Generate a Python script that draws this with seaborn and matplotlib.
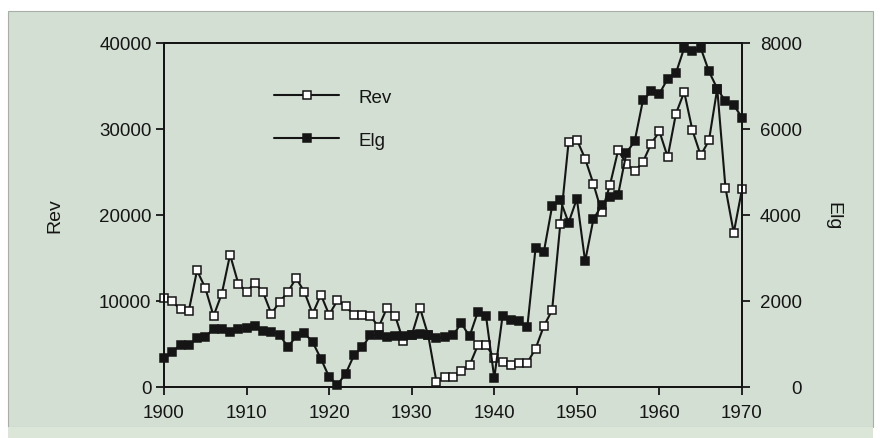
import numpy as np
import pandas as pd
import matplotlib
matplotlib.use("Agg")
import matplotlib.pyplot as plt
from matplotlib.lines import Line2D
from matplotlib.patches import Rectangle
import seaborn as sns

sns.set_style("ticks")
plt.rcParams['font.family'] = ['Liberation Sans', 'DejaVu Sans']

years = list(range(1900, 1971))

rev = [10350, 9950, 9020, 8840, 13560, 11510, 8260, 10850, 15380, 12010,
       11050, 12130, 11000, 8520, 9880, 11050, 12670, 11050, 8520, 10730,
       8400, 10070, 9420, 8330, 8330, 8260, 6980, 9190, 8260, 5300,
       6000, 9190, 6000, 580, 1200, 1200, 1810, 2510, 4840, 4900,
       3370, 2910, 2590, 2820, 2820, 4450, 7090, 8910, 18990, 28490,
       28760, 26550, 23640, 20350, 23450, 27520, 25970, 25080, 26160, 28290,
       29720, 26740, 31780, 34300, 29840, 26930, 28680, 34690, 23140, 17940,
       22980]

elg = [674, 814, 984, 967, 1147, 1163, 1356, 1340, 1279, 1340,
       1372, 1419, 1294, 1279, 1216, 930, 1177, 1250, 1047, 658,
       233, 53, 309, 735, 930, 1200, 1200, 1163, 1178, 1178,
       1216, 1230, 1216, 1132, 1163, 1200, 1488, 1177, 1744, 1651,
       209, 1651, 1565, 1527, 1395, 3232, 3139, 4200, 4340, 3821,
       4379, 2921, 3898, 4223, 4418, 4472, 5449, 5712, 6665, 6875,
       6821, 7170, 7302, 7884, 7805, 7884, 7340, 6940, 6640, 6560,
       6260]

df = pd.DataFrame({"year": years, "Rev": rev, "Elg": elg})

bg = "#d3dfd2"
ink = "#151515"
msize = 6

fig = plt.figure(figsize=(8.83, 4.39), dpi=100, facecolor="white")
# scanned panel background
fig.patches.append(Rectangle((8 / 883, 11 / 439), 865 / 883, 416 / 439,
                             transform=fig.transFigure, facecolor=bg,
                             edgecolor="#a8aea8", linewidth=0.8, zorder=-5))
fig.patches.append(Rectangle((8 / 883, 0), 865 / 883, 11 / 439,
                             transform=fig.transFigure, facecolor="#dce6d8",
                             edgecolor="none", zorder=-5))

ax = fig.add_axes([164 / 883, 1 - 388 / 439, 578 / 883, 344 / 439])
ax.set_facecolor("none")
ax2 = ax.twinx()
ax2.set_facecolor("none")

sns.lineplot(data=df, x="year", y="Rev", ax=ax, color=ink, linewidth=1.5,
             marker="s", markersize=msize, markerfacecolor="white",
             markeredgecolor=ink, markeredgewidth=1.1, clip_on=False)
sns.lineplot(data=df, x="year", y="Elg", ax=ax2, color=ink, linewidth=1.5,
             marker="s", markersize=msize, markerfacecolor=ink,
             markeredgecolor=ink, markeredgewidth=1.1, clip_on=False)

ax.set_xlim(1900, 1970)
ax.set_ylim(0, 40000)
ax2.set_ylim(0, 8000)
ax.set_xticks([1900, 1910, 1920, 1930, 1940, 1950, 1960, 1970])
ax.set_yticks([0, 10000, 20000, 30000, 40000])
ax2.set_yticks([0, 2000, 4000, 6000, 8000])

for a in (ax, ax2):
    for s in a.spines.values():
        s.set_color(ink)
        s.set_linewidth(1.4)
    a.tick_params(direction="out", length=6, width=1.3, color=ink,
                  labelsize=13.5, labelcolor=ink)

ax.tick_params(axis="y", pad=3)
ax.tick_params(axis="x", pad=6)
ax2.tick_params(axis="y", pad=37)
for t in ax2.yaxis.get_major_ticks():
    t.label2.set_horizontalalignment("right")

ax.set_xlabel("")
ax.set_ylabel("Rev", fontsize=14, color=ink, labelpad=26)
ax2.set_ylabel("Elg", fontsize=14, color=ink, rotation=270, va="bottom",
               labelpad=16)

handles = [
    Line2D([], [], color=ink, linewidth=1.5, marker="s", markersize=msize,
           markerfacecolor="white", markeredgecolor=ink, markeredgewidth=1.1),
    Line2D([], [], color=ink, linewidth=1.5, marker="s", markersize=msize,
           markerfacecolor=ink, markeredgecolor=ink, markeredgewidth=1.1),
]
leg = ax2.legend(handles, ["Rev", "Elg"], loc="upper left",
                 bbox_to_anchor=(0.19, 0.868), frameon=False, fontsize=13.5,
                 handlelength=3.5, handletextpad=1.0, labelspacing=1.4,
                 borderpad=0, borderaxespad=0)
for txt in leg.get_texts():
    txt.set_color(ink)

fig.savefig("out.png", dpi=100, facecolor="white")
